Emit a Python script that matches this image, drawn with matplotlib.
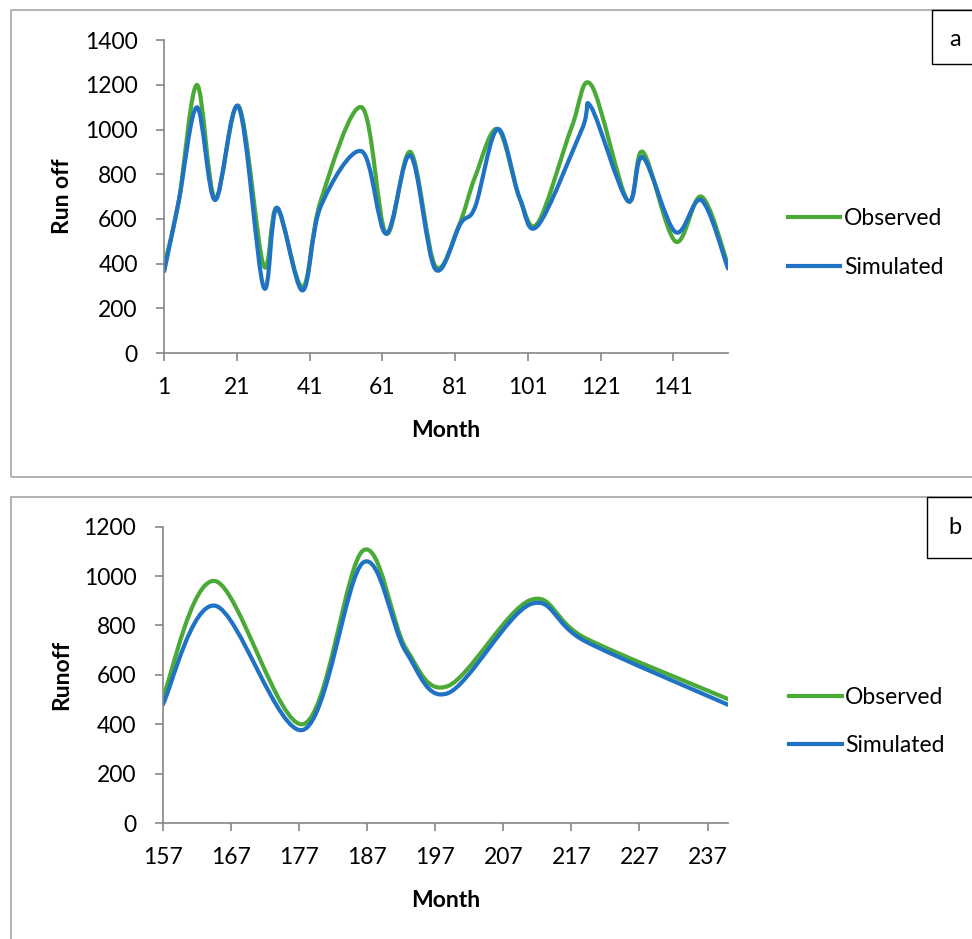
import numpy as np
import matplotlib.pyplot as plt
from matplotlib.path import Path
from matplotlib.patches import PathPatch, Rectangle
from matplotlib.lines import Line2D

plt.rcParams['font.family'] = ['Lato', 'DejaVu Sans']

# panel a, months 1-156
month_a_obs = [1, 5, 10, 15, 21.5, 28.3, 32, 39, 44, 55.3, 62, 68.7, 75.5, 82, 86.5,
               92.7, 98.7, 103.7, 113, 118.4, 128.4, 132.6, 141.5, 148.7, 156]
runoff_a_obs = [390, 680, 1200, 690, 1105, 393, 650, 295, 680, 1100, 535, 900, 390, 570, 790,
                1003, 694, 582, 1010, 1200, 682, 900, 500, 700, 395]
month_a_sim = [1, 5, 10, 15, 21.5, 28.3, 32, 39, 44, 55.3, 62, 68.7, 75.5, 82.5, 86.5,
               92.7, 98.7, 103.7, 115.8, 118.4, 128.4, 132.6, 141.5, 148.7, 156]
runoff_a_sim = [366, 680, 1100, 685, 1100, 296, 650, 280, 655, 903, 534, 884, 376, 580, 655,
                1003, 694, 570, 1000, 1100, 682, 876, 542, 684, 378]

# panel b, months 157-240
month_b_obs = [157, 164.7, 177.6, 186.4, 192.7, 198.9, 211, 219.1, 240]
runoff_b_obs = [506, 980, 400, 1103, 708, 555, 903, 748, 502]
month_b_sim = [157, 164.7, 177.6, 186.4, 192.7, 198.9, 211, 219.1, 240]
runoff_b_sim = [479, 880, 377, 1054, 694, 526, 886, 735, 479]

green = '#4aaa37'
blue = '#1f72c4'
grey = '#868686'
W, H = 972, 939
fs = 16.5


def smooth_path(x, y):
    # excel style smoothed line, bezier segments through every point
    x = np.asarray(x, float)
    y = np.asarray(y, float)
    px = np.r_[x[0], x, x[-1]]
    py = np.r_[y[0], y, y[-1]]
    verts = [(x[0], y[0])]
    codes = [Path.MOVETO]
    for i in range(len(x) - 1):
        j = i + 1
        c1 = (px[j] + (px[j + 1] - px[j - 1]) / 6, py[j] + (py[j + 1] - py[j - 1]) / 6)
        c2 = (px[j + 1] - (px[j + 2] - px[j]) / 6, py[j + 1] - (py[j + 2] - py[j]) / 6)
        verts += [c1, c2, (x[i + 1], y[i + 1])]
        codes += [Path.CURVE4] * 3
    return Path(verts, codes)


def fr(x0, y0, x1, y1):
    # pixel box -> figure fraction rect
    return [x0 / W, 1 - y1 / H, (x1 - x0) / W, (y1 - y0) / H]


fig = plt.figure(figsize=(W / 100, H / 100), dpi=100)

# outer chart borders and panel letters
fig.patches.append(Rectangle((11 / W, 1 - 477 / H), 1, (477 - 10) / H, transform=fig.transFigure,
                             fill=False, edgecolor='#a6a6a6', lw=1.2))
fig.patches.append(Rectangle((11 / W, 1 - 945 / H), 1, (945 - 497) / H, transform=fig.transFigure,
                             fill=False, edgecolor='#a6a6a6', lw=1.2))
fig.patches.append(Rectangle((932 / W, 1 - 64 / H), 1, (64 - 10) / H, transform=fig.transFigure,
                             fill=False, edgecolor='black', lw=1.0))
fig.patches.append(Rectangle((927 / W, 1 - 558 / H), 1, (558 - 497) / H, transform=fig.transFigure,
                             fill=False, edgecolor='black', lw=1.0))
fig.text(955 / W, 1 - 40 / H, 'a', ha='center', va='center', fontsize=17)
fig.text(955 / W, 1 - 528 / H, 'b', ha='center', va='center', fontsize=17)

panels = [
    (fr(164.2, 40.3, 728, 353), month_a_obs, runoff_a_obs, month_a_sim, runoff_a_sim,
     (1, 156), np.arange(1, 142, 20), (0, 1400), 'Run off', (1.106, 0.352), -0.181, -0.248),
    (fr(162.7, 526.7, 728, 823), month_b_obs, runoff_b_obs, month_b_sim, runoff_b_sim,
     (157, 240), np.arange(157, 238, 10), (0, 1200), 'Runoff', (1.108, 0.343), -0.178, -0.262),
]

for rect, xo, yo, xs, ys, xlim, xt, ylim, ylab, leg_at, ylx, xly in panels:
    ax = fig.add_axes(rect)
    ax.add_patch(PathPatch(smooth_path(xo, yo), fill=False, edgecolor=green, lw=3,
                           capstyle='round', joinstyle='round'))
    ax.add_patch(PathPatch(smooth_path(xs, ys), fill=False, edgecolor=blue, lw=3,
                           capstyle='round', joinstyle='round'))
    ax.set_xlim(*xlim)
    ax.set_ylim(*ylim)
    ax.set_xticks(xt)
    ax.set_yticks(np.arange(ylim[0], ylim[1] + 1, 200))
    for s in ['top', 'right']:
        ax.spines[s].set_visible(False)
    for s in ['left', 'bottom']:
        ax.spines[s].set_color(grey)
        ax.spines[s].set_linewidth(1.2)
    ax.tick_params(axis='both', color=grey, width=1.2, length=6, labelsize=fs)
    ax.tick_params(axis='x', pad=11)
    ax.tick_params(axis='y', pad=13)
    ax.set_ylabel(ylab, fontsize=fs, fontweight='bold')
    ax.yaxis.set_label_coords(ylx, 0.5)
    ax.yaxis.label.set_va('center')
    ax.set_xlabel('Month', fontsize=fs, fontweight='bold')
    ax.xaxis.set_label_coords(0.5, xly)
    ax.xaxis.label.set_va('center')
    handles = [Line2D([], [], color=green, lw=3), Line2D([], [], color=blue, lw=3)]
    ax.legend(handles, ['Observed', 'Simulated'], loc='center left', bbox_to_anchor=leg_at,
              frameon=False, fontsize=fs, borderpad=0, borderaxespad=0, handlelength=2.3,
              handletextpad=0.15, labelspacing=1.2)

fig.savefig('out.png', dpi=100)
